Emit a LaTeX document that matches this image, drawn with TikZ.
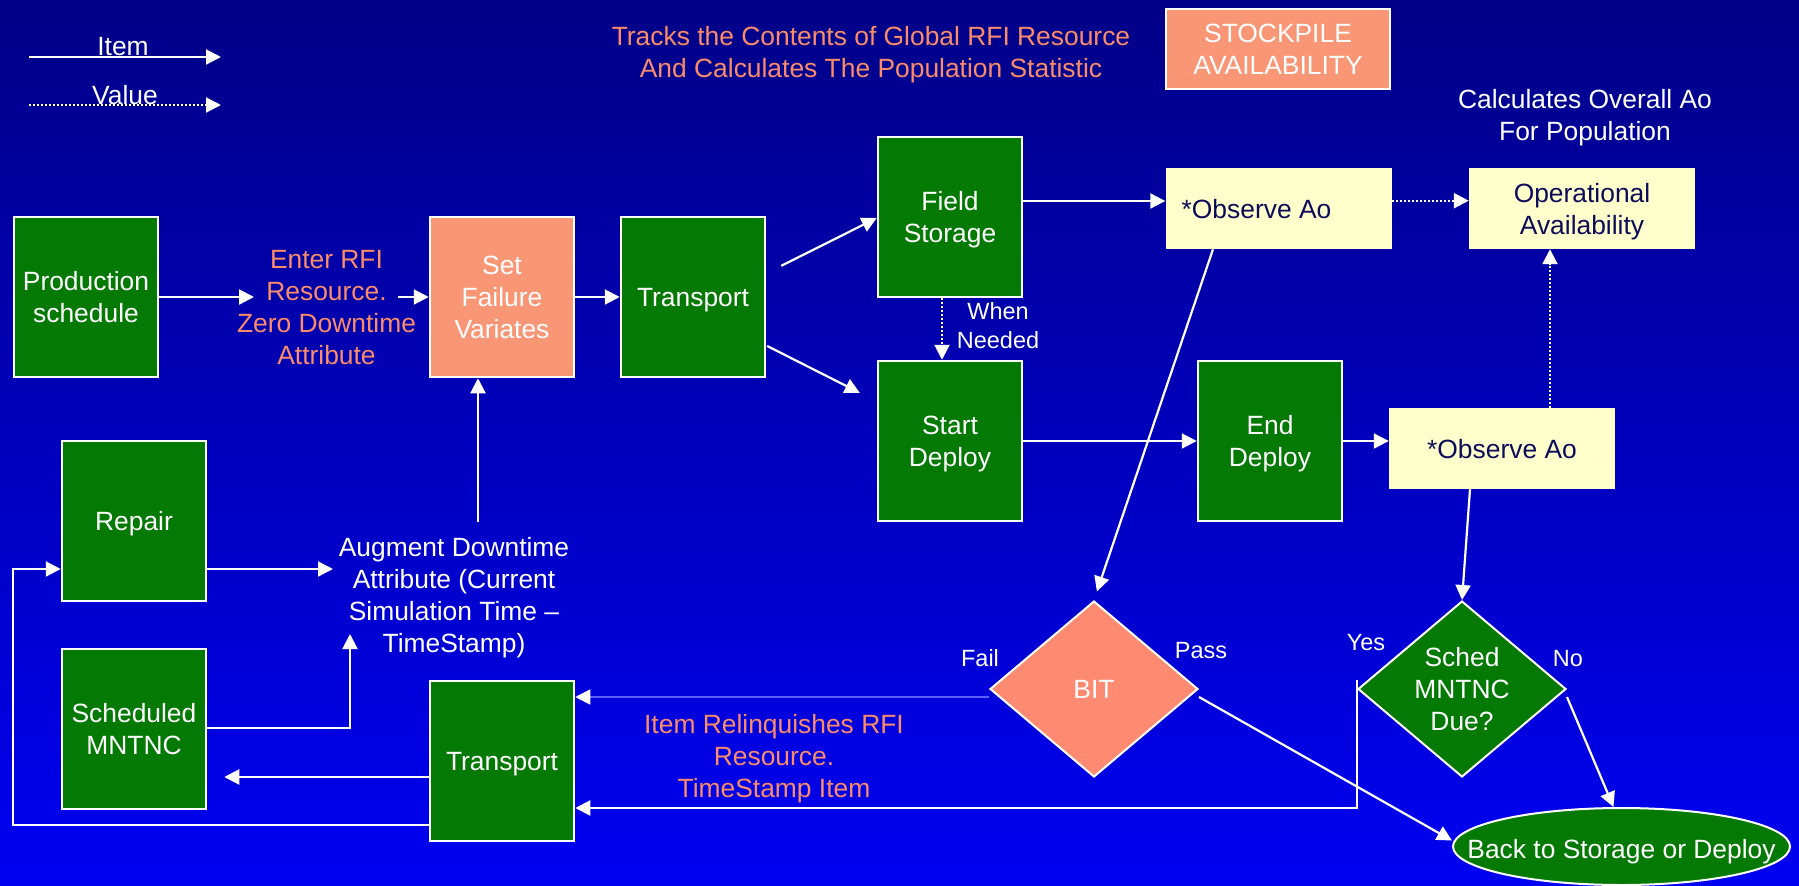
\documentclass[tikz,border=0pt]{standalone}
\usepackage{fontspec}
\setmainfont{Liberation Sans}
\usetikzlibrary{arrows.meta,shapes.geometric,calc}

\definecolor{bgtop}{RGB}{0,0,135}
\definecolor{bgmid}{RGB}{0,0,215}
\definecolor{bgbot}{RGB}{0,0,242}
\definecolor{boxgreen}{RGB}{4,122,4}
\definecolor{salmonfill}{RGB}{249,150,117}
\definecolor{bitfill}{RGB}{255,138,114}
\definecolor{salmontext}{RGB}{252,140,105}
\definecolor{paleyellow}{RGB}{255,255,204}
\definecolor{navytext}{RGB}{12,12,90}
\definecolor{faintline}{RGB}{95,95,255}

\newcommand\mainfs{\fontsize{26.4}{32}\selectfont}
\newcommand\labelfs{\fontsize{23.5}{29}\selectfont}

\tikzset{
  flow/.style={draw=white, line width=2.2pt, -{Triangle[length=15pt,width=15pt]}},
  valueflow/.style={flow, dash pattern=on 2pt off 2pt},
  failflow/.style={draw=faintline, line width=1.8pt, -{Triangle[length=15pt,width=15pt,color=white]}},
  txt/.style={text=white, font=\mainfs, align=center, inner sep=0pt, text depth=0pt},
  note/.style={txt, text=salmontext},
  lbl/.style={text=white, font=\labelfs, inner sep=0pt, anchor=base},
  stepbox/.style={draw=white, line width=2.5pt, fill=boxgreen, text=white, font=\mainfs,
    align=center, minimum width=144pt, minimum height=160pt, inner sep=0pt, text depth=0pt},
  hotbox/.style={stepbox, fill=salmonfill},
  infobox/.style={fill=paleyellow, text=navytext, font=\mainfs, align=center,
    minimum width=226pt, minimum height=81pt, inner sep=0pt, text depth=0pt},
  decision/.style={diamond, draw=white, line width=2pt, text=white, font=\mainfs, align=center,
    minimum width=208pt, minimum height=176pt, inner sep=0pt, shape aspect=1.18},
}

\begin{document}
\begin{tikzpicture}[x=1pt,y=-1pt]
  \useasboundingbox (0,0) rectangle (1799,886);
  % background
  \shade[top color=bgtop, middle color=bgmid, bottom color=bgbot] (0,0) rectangle (1799,886);

  % legend
  \coordinate (itemA) at (29,57);
  \coordinate (itemB) at (221,57);
  \coordinate (valA) at (29,105);
  \coordinate (valB) at (221,105);
  \draw[flow] (itemA) -- (itemB);
  \draw[valueflow] (valA) -- (valB);
  \node[lbl, font=\mainfs] (itemlbl) at (123,55) {Item};
  \node[lbl, font=\mainfs] (vallbl) at (125,104) {Value};

  % headings
  \node[note] (tracks) at (871,51.5) {Tracks the Contents of Global RFI Resource\\And Calculates The Population Statistic};
  \node[draw=white, line width=2.5pt, fill=salmonfill, text=white, font=\mainfs, align=center,
        minimum width=224pt, minimum height=80pt, inner sep=0pt, text depth=0pt]
        (stock) at (1278,49) {STOCKPILE\\AVAILABILITY};
  \node[txt] (overall) at (1585,115) {Calculates Overall Ao\\For Population};

  % process boxes
  \node[stepbox] (prod) at (86,297) {Production\\schedule};
  \node[hotbox] (setfail) at (502,297) {Set\\Failure\\Variates};
  \node[stepbox] (trtop) at (693,297) {Transport};
  \node[stepbox] (field) at (950,217) {Field\\Storage};
  \node[stepbox] (start) at (950,441) {Start\\Deploy};
  \node[stepbox] (enddep) at (1270,441) {End\\Deploy};
  \node[infobox] (obstop) at (1278.5,208.5) {*Observe Ao\hspace*{44pt}};
  \node[infobox] (oa) at (1582,208.5) {Operational\\Availability};
  \node[infobox] (obsbot) at (1502,448.5) {*Observe Ao};
  \node[stepbox] (repair) at (134,521) {Repair};
  \node[stepbox] (sched) at (134,729) {Scheduled\\MNTNC};
  \node[stepbox] (trbot) at (502,761) {Transport};
  \node[decision, fill=bitfill] (bit) at (1094,689) {BIT};
  \node[decision, fill=boxgreen] (due) at (1462,689) {Sched\\MNTNC\\Due?};
  \node[ellipse, draw=white, line width=2pt, fill=boxgreen, minimum width=337pt,
        minimum height=77pt, inner sep=0pt] (back) at (1621.5,846.5) {};
  \node[txt] (backtxt) at ($(back)+(0,2)$) {Back to Storage or Deploy};

  % free text
  \node[note] (enter) at (326.5,307) {Enter RFI\\Resource.\\Zero Downtime\\Attribute};
  \node[txt, font=\labelfs] (whenneeded) at (998,325) {When\\Needed};
  \node[txt] (aug) at (454,594.5) {Augment Downtime\\Attribute (Current\\Simulation Time --\\TimeStamp)};
  \node[note] (relinq) at (774,755.5) {Item Relinquishes RFI\\Resource.\\TimeStamp Item};
  \node[lbl] (faillbl) at (980,666) {Fail};
  \node[lbl] (passlbl) at (1201,658) {Pass};
  \node[lbl] (yeslbl) at (1366,650) {Yes};
  \node[lbl] (nolbl) at (1568,666) {No};

  % item flow
  \coordinate (enterIn) at (254,297);
  \coordinate (enterOut) at (398,297);
  \draw[flow] (prod.east) -- (enterIn);
  \draw[flow] (enterOut) -- (setfail.west);
  \draw[flow] (setfail) -- (trtop);
  \draw[flow, shorten <=16.7pt] ($(trtop.east)+(0,-23.7)$) -- ($(field.west)+(0,1)$);
  \draw[flow, shorten <=1pt, shorten >=19pt] ($(trtop.east)+(0,48.5)$) -- ($(start.west)+(0,-39.6)$);
  \draw[flow] ($(field.east)+(0,-16)$) -- ($(obstop.west)+(0,-7.5)$);
  \draw[flow] (start) -- (enddep);
  \draw[flow] (enddep.east) -- (enddep.east -| obsbot.west);
  \draw[flow, shorten >=9pt] ($(obstop.south)+(-65.5,0)$) -- (bit.north);
  \draw[flow] ($(obsbot.south)+(-32,0)$) -- (due.north);
  \draw[failflow] ($(bit.west)+(0,8)$) -- ($(trbot.east)+(0,-64)$);
  \draw[flow] ($(due.west)+(0,-9)$) |- ($(trbot.east)+(0,47)$);
  \draw[flow] ($(bit.east)+(0,8)$) -- ($(back.west)+(0,-6)$);
  \draw[flow] ($(due.east)+(0,8)$) -- ($(back.north)+(-8,0)$);
  \draw[flow, shorten >=17pt] ($(trbot.west)+(0,16)$) -- ($(sched.east)+(0,48)$);
  \draw[flow] ($(trbot.west)+(0,64)$) -| ($(repair.west)+(-48,48)$) -- ($(repair.west)+(0,48)$);
  \coordinate (augIn1) at (333,569);
  \coordinate (augIn2) at (350,634);
  \draw[flow] ($(repair.east)+(0,48)$) -- (augIn1);
  \draw[flow] ($(sched.east)+(0,-1)$) -| (augIn2);
  \draw[flow] ($(setfail.south)+(-24,144)$) -- ($(setfail.south)+(-24,0)$);

  % value flow
  \draw[valueflow] ($(obstop.east)+(0,-7.8)$) -- ($(oa.west)+(0,-7.8)$);
  \draw[valueflow] ($(field.south)+(-8,0)$) -- ($(start.north)+(-8,0)$);
  \draw[valueflow] ($(obsbot.north)+(48,0)$) -- ($(oa.south)+(-32,0)$);
\end{tikzpicture}
\end{document}
